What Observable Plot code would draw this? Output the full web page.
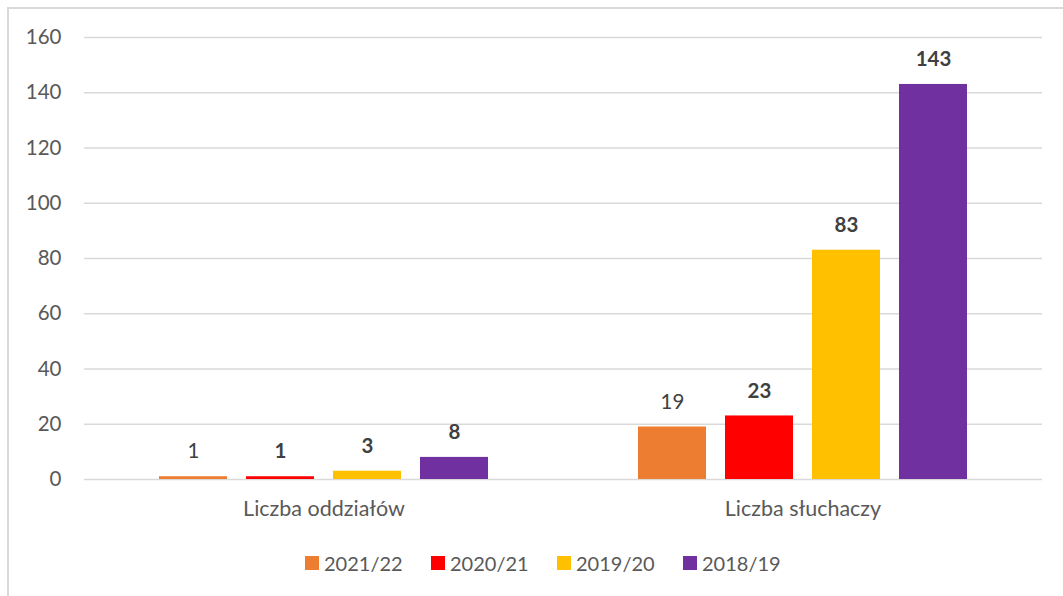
<!DOCTYPE html>
<html>
<head>
<meta charset="utf-8">
<script src="https://cdn.jsdelivr.net/npm/d3@7"></script>
<script src="https://cdn.jsdelivr.net/npm/@observablehq/plot@0.6"></script>
<style>
  html, body { margin: 0; padding: 0; background: #fff; }
  body { width: 1063px; height: 596px; position: relative; overflow: hidden; font-family: Lato, "Liberation Sans", sans-serif; }
  #frame { position: absolute; left: 7px; top: 7px; width: 1100px; height: 640px; border-left: 2px solid #d9d9d9; border-top: 2px solid #d9d9d9; box-sizing: border-box; }
  #chart { position: absolute; left: 0; top: 0; }
  #legend { position: absolute; left: 305px; top: 551px; display: flex; color: #595959; font-size: 20px; }
  .item { width: 126px; display: flex; align-items: center; white-space: nowrap; }
  .sw { width: 14px; height: 14px; margin-right: 5px; flex: none; }
</style>
</head>
<body>
<div id="frame"></div>
<div id="chart"></div>
<div id="legend"></div>
<script>
const categories = ["Liczba oddziałów", "Liczba słuchaczy"];
const years = ["2021/22", "2020/21", "2019/20", "2018/19"];
const oddzialy = [1, 1, 3, 8];
const sluchacze = [19, 23, 83, 143];
const colors = ["#ED7D31", "#FF0000", "#FFC000", "#7030A0"];
const yTicks = [0, 20, 40, 60, 80, 100, 120, 140, 160];

const series = [oddzialy, sluchacze];
const data = categories.flatMap((c, i) => years.map((y, j) => ({category: c, year: y, value: series[i][j]})));

const chart = Plot.plot({
  width: 1063,
  height: 530,
  marginLeft: 84,
  marginRight: 21,
  marginTop: 37,
  marginBottom: 51,
  style: {fontFamily: "Lato, 'Liberation Sans', sans-serif", fontSize: "20px", color: "#595959", background: "transparent"},
  fx: {domain: categories, padding: 0},
  x: {domain: years, paddingInner: 0.218, paddingOuter: 0.86, axis: null},
  y: {domain: [0, 160]},
  color: {domain: years, range: colors},
  marks: [
    Plot.ruleY(yTicks, {stroke: "#d9d9d9", strokeWidth: 1.5}),
    Plot.axisY(yTicks, {tickSize: 0, tickPadding: 23, label: null, fill: "#595959", fontSize: 20.5}),
    Plot.axisFx({anchor: "bottom", tickSize: 0, tickPadding: 21, label: null, fill: "#595959", fontSize: 21.5}),
    Plot.barY(data, {fx: "category", x: "year", y: "value", fill: "year"}),
    Plot.text(data.filter(d => d.year === years[0]), {fx: "category", x: "year", y: "value", text: d => String(d.value), dy: -25, fill: "#404040", fontSize: 20.5}),
    Plot.text(data.filter(d => d.year !== years[0]), {fx: "category", x: "year", y: "value", text: d => String(d.value), dy: -25, fill: "#404040", fontSize: 20.5, fontWeight: "bold"})
  ]
});
document.getElementById("chart").appendChild(chart);

const legend = document.getElementById("legend");
years.forEach((y, i) => {
  const item = document.createElement("div");
  item.className = "item";
  const sw = document.createElement("span");
  sw.className = "sw";
  sw.style.background = colors[i];
  const t = document.createElement("span");
  t.textContent = y;
  item.appendChild(sw);
  item.appendChild(t);
  legend.appendChild(item);
});
</script>
</body>
</html>
